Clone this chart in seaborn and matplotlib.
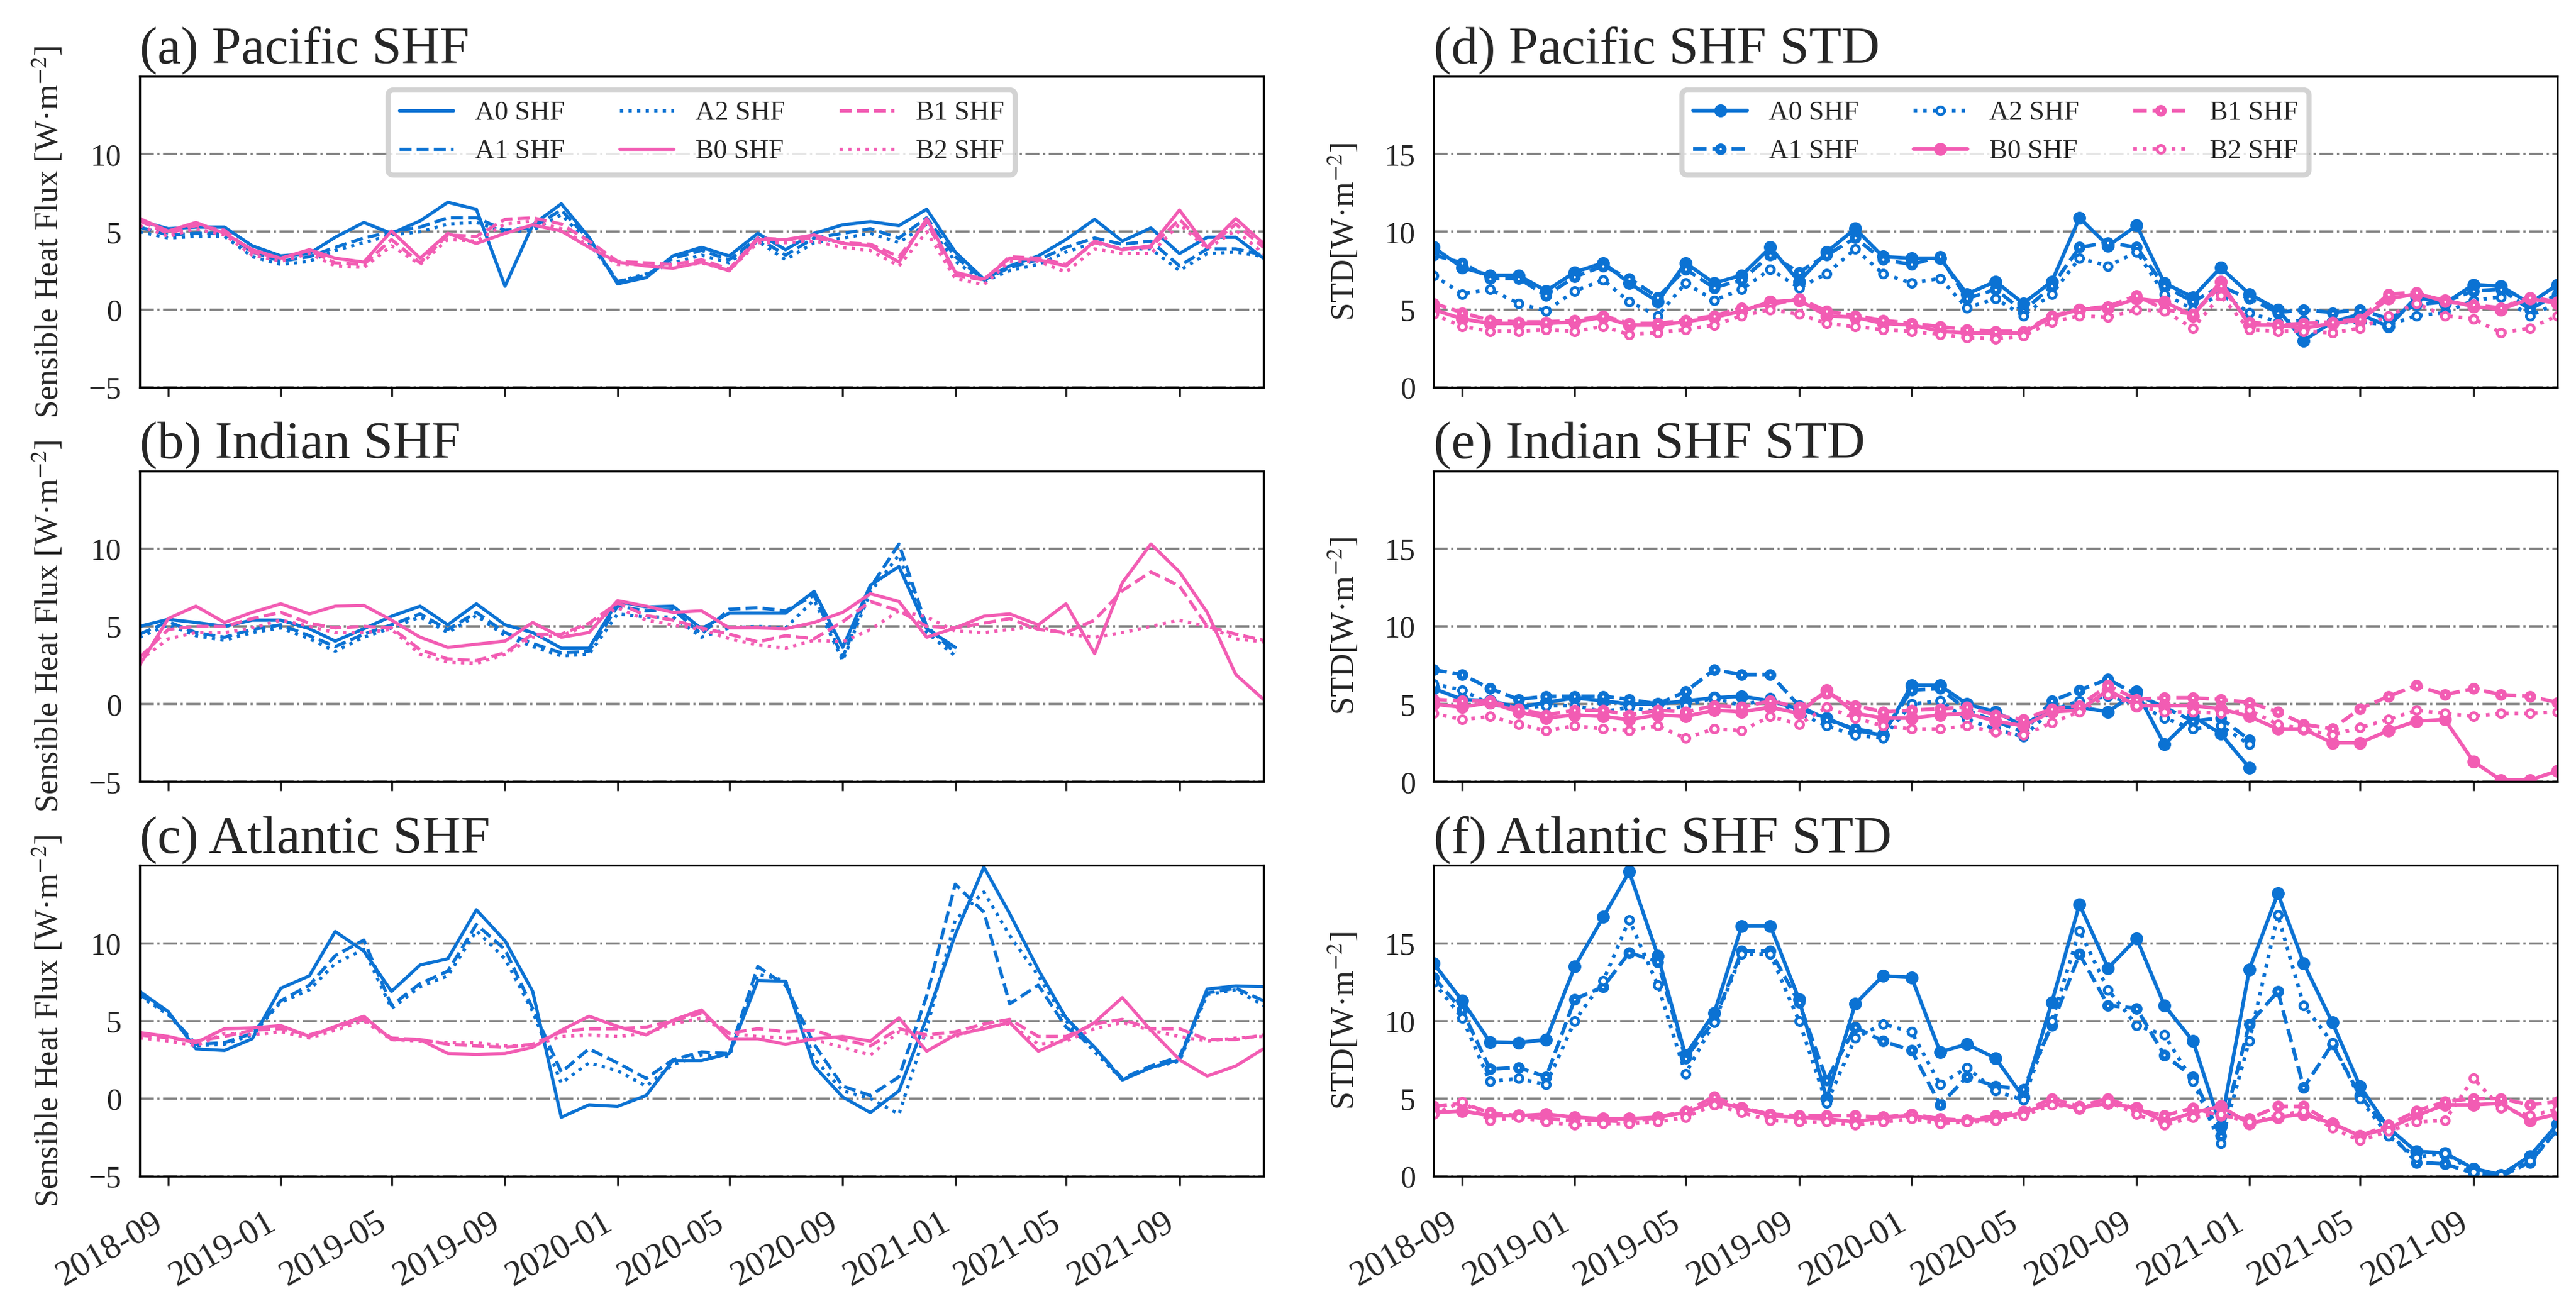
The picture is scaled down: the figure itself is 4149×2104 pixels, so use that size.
import numpy as np
import pandas as pd
import matplotlib
matplotlib.use('Agg')
import matplotlib.pyplot as plt
import matplotlib.dates as mdates
import seaborn as sns

# monthly time axis
dates = pd.date_range('2018-08-01', '2021-12-01', freq='MS')
runs = ['A0', 'A1', 'A2', 'B0', 'B1', 'B2']

# (a) Pacific SHF
pac_a0 = [5.7, 5.2, 5.3, 5.3, 4.1, 3.45, 3.6, 4.65, 5.6, 4.9, 5.7, 6.9, 6.45, 1.5, 5.45, 6.8, 4.65, 1.65, 2.05, 3.45, 4.0,
          3.45, 4.9, 3.85, 4.9, 5.45, 5.65, 5.4, 6.45, 3.7, 1.95, 2.8, 3.45, 4.5, 5.8, 4.4, 5.25, 3.6, 4.65, 4.65, 3.3]
pac_a1 = [5.3, 4.8, 4.9, 4.9, 3.7, 3.1, 3.4, 4.0, 4.6, 5.0, 5.3, 5.9, 5.9, 5.1, 5.3, 6.4, 4.5, 1.8, 2.2, 3.3, 3.8,
          3.2, 4.6, 3.5, 4.6, 4.9, 5.2, 4.6, 5.9, 3.4, 1.9, 2.7, 3.2, 4.0, 4.6, 4.2, 4.4, 2.8, 3.9, 3.9, 3.5]
pac_a2 = [5.0, 4.6, 4.7, 4.7, 3.4, 2.9, 3.1, 3.8, 4.3, 4.8, 5.0, 5.5, 5.6, 5.0, 5.1, 6.1, 4.3, 1.8, 2.3, 3.0, 3.5,
          3.0, 4.4, 3.2, 4.3, 4.6, 4.9, 4.3, 5.5, 3.1, 1.8, 2.5, 2.9, 3.7, 4.3, 3.9, 3.9, 2.5, 3.6, 3.7, 3.4]
pac_b0 = [5.85, 5.05, 5.6, 4.9, 3.85, 3.3, 3.85, 3.3, 3.05, 5.05, 3.3, 4.9, 4.25, 4.9, 5.45, 5.05, 4.0, 3.05, 2.8, 2.65,
          3.05, 2.5, 4.5, 4.5, 4.8, 4.25, 4.1, 3.05, 5.85, 2.4, 1.95, 3.3, 3.2, 2.8, 4.4, 3.85, 4.1, 6.4, 4.0, 5.85, 4.25]
pac_b1 = [5.7, 4.9, 5.4, 5.1, 3.7, 3.3, 3.8, 3.0, 2.9, 4.5, 3.0, 4.8, 4.7, 5.8, 5.9, 5.5, 4.4, 3.1, 3.0, 2.9, 3.2,
          2.6, 4.6, 4.5, 4.6, 4.3, 4.2, 3.4, 5.6, 2.2, 1.9, 3.4, 3.3, 2.9, 4.3, 3.9, 4.0, 5.8, 4.0, 5.5, 4.0]
pac_b2 = [5.4, 4.7, 5.2, 4.8, 3.5, 3.1, 3.6, 2.8, 2.7, 4.1, 2.9, 4.5, 4.4, 5.5, 5.7, 5.2, 4.1, 2.9, 2.9, 2.7, 3.0,
          2.5, 4.3, 4.3, 4.4, 4.0, 3.8, 2.8, 5.0, 2.0, 1.6, 3.1, 3.1, 2.4, 3.9, 3.6, 3.6, 5.5, 3.9, 5.1, 3.6]

# (b) Indian SHF (A runs stop in 2021-01)
ind_a0 = [5.0, 5.45, 5.25, 5.0, 5.4, 5.4, 4.85, 4.05, 4.85, 5.65, 6.3, 5.1, 6.45, 5.1, 4.6, 3.6, 3.6, 6.6, 6.25, 6.3,
          4.85, 5.85, 5.85, 5.85, 7.25, 3.65, 7.65, 8.85, 4.85, 3.65]
ind_a1 = [4.5, 5.3, 4.6, 4.3, 4.8, 5.1, 4.4, 3.7, 4.5, 5.1, 5.8, 4.8, 5.9, 4.6, 3.9, 3.3, 3.4, 6.3, 6.0, 6.1,
          4.5, 6.1, 6.2, 6.0, 7.0, 3.0, 7.5, 10.3, 5.0, 3.3]
ind_a2 = [4.3, 5.1, 4.4, 4.1, 4.6, 4.9, 4.2, 3.4, 4.3, 4.9, 5.6, 4.6, 5.7, 4.4, 3.7, 3.1, 3.2, 5.8, 5.6, 5.6,
          4.3, 4.9, 5.0, 4.9, 6.7, 2.8, 7.2, 9.6, 4.6, 3.1]
ind_b0 = [2.5, 5.5, 6.3, 5.25, 5.9, 6.45, 5.8, 6.3, 6.35, 5.4, 4.3, 3.65, 3.85, 4.05, 5.25, 4.3, 4.6, 6.65, 6.3, 5.9,
          6.0, 4.9, 4.9, 4.85, 5.25, 5.9, 7.1, 6.6, 4.3, 4.9, 5.65, 5.8, 5.1, 6.45, 3.25, 7.8, 10.3, 8.5, 5.9, 1.9, 0.3]
ind_b1 = [3.0, 4.8, 5.0, 5.0, 5.5, 5.9, 5.2, 4.9, 5.0, 4.9, 3.5, 2.9, 2.8, 3.3, 4.5, 4.5, 5.2, 6.5, 5.7, 5.4,
          4.9, 4.5, 4.0, 4.4, 4.2, 5.3, 6.6, 6.0, 5.0, 4.9, 5.2, 5.5, 4.8, 4.6, 5.4, 7.3, 8.5, 7.6, 5.0, 4.5, 4.1]
ind_b2 = [2.8, 4.2, 4.6, 4.6, 4.9, 5.4, 5.0, 4.6, 4.6, 4.8, 3.2, 2.7, 2.6, 3.2, 4.3, 4.4, 5.1, 6.2, 5.4, 5.1,
          4.8, 4.2, 3.8, 3.6, 4.1, 4.0, 4.8, 6.0, 5.6, 4.7, 4.6, 4.8, 5.0, 4.5, 4.3, 4.6, 5.0, 5.4, 5.0, 4.2, 4.0]

# (c) Atlantic SHF
atl_a0 = [6.9, 5.6, 3.2, 3.1, 3.85, 7.1, 7.9, 10.75, 9.5, 6.9, 8.6, 9.0, 12.15, 10.15, 6.9, -1.2, -0.4, -0.5, 0.2,
          2.45, 2.45, 2.9, 7.6, 7.55, 2.1, 0.1, -0.9, 0.5, 5.2, 10.55, 14.9, 11.9, 8.3, 5.2, 3.3, 1.2, 2.0, 2.5,
          7.05, 7.25, 7.2]
atl_a1 = [6.7, 5.5, 3.5, 3.6, 4.2, 6.3, 7.3, 9.2, 10.2, 6.0, 7.4, 8.2, 11.2, 9.6, 5.8, 1.7, 3.2, 2.3, 1.3, 2.5,
          3.0, 2.9, 8.5, 7.3, 3.5, 0.8, 0.2, 1.4, 6.6, 13.8, 12.0, 6.1, 7.3, 4.6, 3.3, 1.3, 2.1, 2.7, 6.8, 7.1, 6.3]
atl_a2 = [6.6, 5.4, 3.4, 3.5, 4.1, 6.2, 7.0, 8.7, 9.6, 5.8, 7.2, 7.9, 10.8, 9.0, 5.6, 1.0, 2.3, 1.8, 0.8, 2.2,
          2.8, 2.7, 8.0, 7.6, 2.6, 0.5, 0.0, -1.0, 4.5, 11.5, 13.3, 10.5, 7.9, 5.0, 3.0, 1.2, 2.0, 2.4, 6.7, 7.0, 6.0]
atl_b0 = [4.25, 4.0, 3.6, 4.5, 4.55, 4.7, 4.0, 4.65, 5.3, 3.8, 3.8, 2.9, 2.85, 2.9, 3.3, 4.4, 5.3, 4.65, 4.1, 5.05,
          5.7, 3.85, 3.85, 3.5, 3.85, 4.0, 3.7, 5.2, 3.05, 4.1, 4.5, 4.9, 3.05, 3.85, 4.9, 6.5, 4.4, 2.5, 1.45, 2.1, 3.2]
atl_b1 = [4.1, 3.9, 3.7, 4.0, 4.4, 4.5, 4.1, 4.6, 5.1, 3.9, 3.8, 3.5, 3.4, 3.3, 3.5, 4.3, 4.5, 4.5, 4.6, 5.0,
          5.5, 4.2, 4.5, 4.3, 4.4, 3.8, 3.4, 4.5, 4.1, 4.3, 4.8, 5.1, 4.0, 4.0, 4.8, 5.1, 4.5, 4.5, 3.8, 3.8, 4.1]
atl_b2 = [3.9, 3.7, 3.4, 4.2, 4.1, 4.3, 3.9, 4.4, 5.0, 3.8, 3.7, 3.6, 3.6, 3.4, 3.4, 4.0, 4.1, 4.0, 4.2, 4.8,
          5.2, 4.2, 4.0, 3.9, 3.8, 3.3, 2.8, 4.3, 3.9, 4.0, 4.6, 4.8, 3.5, 3.7, 4.5, 4.9, 4.4, 4.0, 3.7, 3.9, 4.0]

# (d) Pacific SHF STD
pac_std_a0 = [9.0, 7.7, 7.2, 7.2, 6.2, 7.4, 8.0, 6.7, 5.5, 8.0, 6.7, 7.2, 9.0, 6.8, 8.7, 10.2, 8.4, 8.3, 8.3, 6.0,
              6.8, 5.4, 6.8, 10.9, 9.1, 10.4, 6.7, 5.8, 7.7, 6.0, 5.0, 3.0, 4.2, 4.7, 3.9, 5.8, 5.4, 6.6, 6.5, 5.4, 6.6]
pac_std_a1 = [8.5, 8.0, 7.0, 7.0, 5.9, 7.1, 7.8, 7.0, 5.8, 7.6, 6.4, 6.9, 8.5, 7.4, 8.5, 9.6, 8.2, 7.9, 8.4, 5.7,
              6.3, 4.9, 6.5, 9.0, 9.3, 9.0, 6.5, 5.5, 6.5, 5.7, 4.8, 5.0, 4.8, 5.0, 4.4, 5.3, 5.5, 6.2, 6.3, 5.0, 6.0]
pac_std_a2 = [7.2, 6.0, 6.3, 5.4, 4.9, 6.2, 6.9, 5.5, 4.6, 6.7, 5.6, 6.3, 7.6, 6.4, 7.3, 8.9, 7.3, 6.7, 7.0, 5.1,
              5.7, 4.6, 6.0, 8.3, 7.8, 8.7, 6.0, 5.0, 6.0, 4.8, 4.2, 4.3, 4.1, 4.2, 4.0, 4.6, 4.8, 5.6, 5.8, 4.6, 5.4]
pac_std_b0 = [5.0, 4.4, 4.1, 4.1, 4.1, 4.2, 4.5, 4.0, 4.0, 4.2, 4.5, 4.9, 5.5, 5.6, 4.6, 4.5, 4.1, 4.0, 3.6, 3.5,
              3.5, 3.5, 4.5, 5.0, 5.1, 5.7, 5.5, 4.6, 6.8, 4.0, 4.0, 3.8, 4.1, 4.3, 5.7, 6.0, 5.6, 5.2, 5.0, 5.7, 5.4]
pac_std_b1 = [5.4, 4.8, 4.3, 4.2, 4.2, 4.3, 4.6, 4.1, 4.1, 4.3, 4.6, 5.1, 5.3, 5.7, 4.9, 4.6, 4.3, 4.1, 3.9, 3.7,
              3.6, 3.6, 4.6, 5.0, 5.2, 5.9, 5.0, 4.7, 6.5, 4.2, 4.0, 4.1, 4.2, 4.4, 6.0, 6.1, 5.5, 5.3, 5.1, 5.8, 5.5]
pac_std_b2 = [4.7, 3.9, 3.6, 3.6, 3.7, 3.6, 3.9, 3.4, 3.5, 3.7, 4.0, 4.6, 5.0, 4.7, 4.1, 3.9, 3.7, 3.6, 3.4, 3.2,
              3.1, 3.3, 4.2, 4.6, 4.5, 5.0, 4.9, 3.8, 5.9, 3.7, 3.6, 3.6, 3.5, 3.8, 4.6, 5.4, 4.6, 4.4, 3.5, 3.8, 4.6]

# (e) Indian SHF STD
ind_std_a0 = [6.0, 5.3, 5.2, 4.8, 5.1, 5.4, 5.2, 5.0, 5.0, 5.2, 5.4, 5.5, 5.2, 4.7, 4.1, 3.3, 3.0, 6.2, 6.2, 5.0,
              4.5, 3.6, 4.8, 4.8, 4.5, 5.8, 2.4, 4.2, 3.1, 0.9]
ind_std_a1 = [7.2, 6.9, 6.0, 5.3, 5.5, 5.5, 5.5, 5.3, 5.0, 5.8, 7.2, 6.9, 6.9, 4.9, 4.0, 3.4, 3.1, 5.9, 6.0, 4.6,
              3.9, 3.2, 5.2, 5.9, 6.6, 5.6, 4.8, 3.9, 4.1, 2.7]
ind_std_a2 = [6.3, 5.9, 5.0, 4.7, 4.9, 4.9, 4.5, 4.8, 4.5, 4.9, 5.4, 4.9, 5.4, 4.4, 3.6, 3.0, 2.8, 5.0, 5.2, 4.0,
              3.4, 2.9, 4.6, 5.2, 5.5, 5.0, 4.1, 3.4, 3.6, 2.4]
ind_std_b0 = [5.0, 4.8, 5.1, 4.5, 4.1, 4.3, 4.2, 4.0, 4.3, 4.2, 4.6, 4.5, 4.8, 4.4, 5.9, 4.4, 4.1, 4.1, 4.3, 4.4,
              3.9, 3.6, 4.5, 4.6, 5.9, 4.9, 4.9, 4.9, 4.7, 4.2, 3.4, 3.4, 2.5, 2.5, 3.3, 3.9, 4.0, 1.3, 0.1, 0.1, 0.7]
ind_std_b1 = [5.3, 5.2, 5.2, 4.7, 4.3, 4.6, 4.6, 4.3, 4.6, 4.5, 4.9, 4.8, 5.2, 4.8, 5.7, 4.9, 4.5, 4.6, 4.7, 4.8,
              4.3, 4.0, 4.7, 4.9, 6.2, 5.3, 5.4, 5.4, 5.3, 5.1, 4.5, 3.7, 3.4, 4.7, 5.5, 6.2, 5.6, 6.0, 5.6, 5.5, 5.1]
ind_std_b2 = [4.4, 4.0, 4.2, 3.7, 3.3, 3.6, 3.4, 3.3, 3.6, 2.8, 3.4, 3.3, 4.2, 3.7, 4.8, 4.1, 3.6, 3.4, 3.4, 3.6,
              3.2, 3.0, 3.8, 4.5, 5.6, 4.9, 4.5, 4.5, 4.4, 4.6, 3.7, 3.4, 3.0, 3.5, 4.0, 4.6, 4.4, 4.2, 4.4, 4.4, 4.5]

# (f) Atlantic SHF STD
atl_std_a0 = [13.7, 11.3, 8.65, 8.6, 8.8, 13.5, 16.7, 19.6, 14.2, 7.8, 10.5, 16.1, 16.1, 11.4, 5.0, 11.1, 12.9, 12.8,
              8.0, 8.5, 7.6, 5.1, 11.2, 17.5, 13.4, 15.3, 11.0, 8.7, 3.2, 13.3, 18.2, 13.7, 9.9, 5.8, 3.1, 1.6, 1.5,
              0.5, 0.1, 1.3, 3.35]
atl_std_a1 = [12.8, 10.7, 6.9, 7.0, 6.4, 11.4, 12.2, 14.4, 13.8, 7.6, 10.0, 14.5, 14.5, 11.2, 6.2, 9.6, 8.7, 8.1,
              4.6, 6.4, 5.8, 5.6, 9.7, 14.3, 11.0, 10.8, 7.8, 6.4, 2.6, 9.8, 11.9, 5.7, 8.5, 5.2, 2.9, 0.9, 0.8,
              0.2, 0.0, 0.9, 3.0]
atl_std_a2 = [12.5, 10.2, 6.1, 6.3, 5.9, 10.0, 12.6, 16.5, 12.3, 6.6, 9.9, 14.3, 14.3, 10.0, 4.7, 8.9, 9.8, 9.3,
              5.9, 7.0, 5.5, 4.9, 10.0, 15.8, 12.0, 9.7, 9.1, 6.1, 2.1, 8.7, 16.8, 11.0, 8.6, 5.0, 2.6, 1.2, 1.5,
              0.3, 0.1, 1.0, 3.0]
atl_std_b0 = [4.1, 4.2, 3.9, 3.9, 4.0, 3.8, 3.7, 3.7, 3.8, 4.1, 4.8, 4.4, 3.9, 3.8, 3.7, 3.5, 3.8, 3.9, 3.6, 3.6,
              3.7, 4.1, 4.7, 4.4, 4.7, 4.4, 3.5, 4.1, 4.5, 3.4, 3.8, 4.0, 3.4, 2.6, 3.1, 3.9, 4.6, 4.6, 4.7, 3.6, 4.0]
atl_std_b1 = [4.5, 4.7, 4.1, 3.9, 3.7, 3.6, 3.6, 3.5, 3.8, 4.2, 5.1, 4.4, 4.0, 3.9, 3.9, 3.9, 3.8, 4.0, 3.7, 3.6,
              3.9, 4.2, 5.0, 4.5, 5.0, 4.3, 3.9, 4.4, 3.9, 3.7, 4.5, 4.5, 3.4, 2.6, 3.3, 4.2, 4.8, 5.0, 5.0, 4.6, 4.8]
atl_std_b2 = [4.0, 4.8, 3.6, 3.8, 3.5, 3.3, 3.4, 3.4, 3.5, 3.8, 4.6, 4.1, 3.6, 3.5, 3.5, 3.3, 3.5, 3.7, 3.4, 3.5,
              3.6, 3.9, 4.6, 4.4, 4.8, 4.0, 3.3, 3.8, 4.0, 3.5, 3.9, 4.2, 3.1, 2.3, 2.9, 3.5, 3.6, 6.3, 4.4, 3.9, 4.3]

# style
sns.set_style('ticks')
plt.rcParams['font.family'] = ['Liberation Serif', 'DejaVu Serif']
plt.rcParams['mathtext.fontset'] = 'stix'
plt.rcParams['xtick.labelsize'] = 13.5
plt.rcParams['ytick.labelsize'] = 12

blue = '#0b72d3'
pink = '#f25cb3'

line_kw = {
    'A0': dict(color=blue, linestyle='-'),
    'A1': dict(color=blue, linestyle='--'),
    'A2': dict(color=blue, linestyle=':'),
    'B0': dict(color=pink, linestyle='-'),
    'B1': dict(color=pink, linestyle='--'),
    'B2': dict(color=pink, linestyle=':'),
}
# marker look for the STD panels: filled / thick ring / open ring
mark_kw = {}
for r in runs:
    c = line_kw[r]['color']
    if r.endswith('0'):
        mark_kw[r] = dict(marker='o', markersize=4.3, markerfacecolor=c, markeredgecolor=c, markeredgewidth=0.7)
    elif r.endswith('1'):
        mark_kw[r] = dict(marker='o', markersize=2.7, markerfacecolor='white', markeredgecolor=c, markeredgewidth=1.8)
    else:
        mark_kw[r] = dict(marker='o', markersize=3.0, markerfacecolor='white', markeredgecolor=c, markeredgewidth=1.1)

left_panels = [
    ('(a) Pacific SHF', [pac_a0, pac_a1, pac_a2, pac_b0, pac_b1, pac_b2]),
    ('(b) Indian SHF', [ind_a0, ind_a1, ind_a2, ind_b0, ind_b1, ind_b2]),
    ('(c) Atlantic SHF', [atl_a0, atl_a1, atl_a2, atl_b0, atl_b1, atl_b2]),
]
right_panels = [
    ('(d) Pacific SHF STD', [pac_std_a0, pac_std_a1, pac_std_a2, pac_std_b0, pac_std_b1, pac_std_b2]),
    ('(e) Indian SHF STD', [ind_std_a0, ind_std_a1, ind_std_a2, ind_std_b0, ind_std_b1, ind_std_b2]),
    ('(f) Atlantic SHF STD', [atl_std_a0, atl_std_a1, atl_std_a2, atl_std_b0, atl_std_b1, atl_std_b2]),
]

fig, axes = plt.subplots(3, 2, figsize=(4149 / 300, 2104 / 300), dpi=300)
fig.subplots_adjust(left=0.0542, right=0.9928, bottom=0.0993, top=0.9415, wspace=0.1514, hspace=0.2695)

for col, panels in enumerate([left_panels, right_panels]):
    for row, (title, series) in enumerate(panels):
        ax = axes[row, col]
        for run, vals in zip(runs, series):
            kw = dict(line_kw[run])
            if col == 1:
                kw.update(mark_kw[run])
            lw = 1.4 if col == 1 else 1.25
            sns.lineplot(x=dates[:len(vals)], y=vals, ax=ax, label=f'{run} SHF', linewidth=lw, **kw)

        ax.set_xlim(dates[0], dates[-1])
        if col == 0:
            ax.set_ylim(-5, 15)
            ax.set_yticks([-5, 0, 5, 10])
            ax.set_ylabel('Sensible Heat Flux [W·m$^{-2}$]', fontsize=12.6, labelpad=9)
        else:
            ax.set_ylim(0, 20)
            ax.set_yticks([0, 5, 10, 15])
            ax.set_ylabel('STD[W·m$^{-2}$]', fontsize=12.6, labelpad=9)
        ax.set_xlabel('')
        ax.set_title(title, loc='left', fontsize=20.5, pad=5)

        ax.grid(axis='y', linestyle='-.', color='gray', linewidth=0.85)
        ax.grid(axis='x', visible=False)
        ax.set_axisbelow(True)

        ax.xaxis.set_major_locator(mdates.MonthLocator(bymonth=[1, 5, 9]))
        ax.xaxis.set_major_formatter(mdates.DateFormatter('%Y-%m'))
        ax.tick_params(axis='y', length=0, pad=7, labelsize=12)
        ax.tick_params(axis='x', length=3.5, width=0.8, direction='out', labelsize=13.5, pad=8,
                       labelrotation=30)
        for sp in ax.spines.values():
            sp.set_visible(True)
            sp.set_color('black')
            sp.set_linewidth(0.8)

        if row == 2:
            for lab in ax.get_xticklabels():
                lab.set_horizontalalignment('right')
        else:
            ax.tick_params(axis='x', labelbottom=False)

        if row == 0:
            leg = ax.legend(loc='upper center', ncol=3, fontsize=10.5, frameon=True,
                            fancybox=True, edgecolor='#c8c8c8', framealpha=0.8)
            leg.get_frame().set_linewidth(2.0)
        elif ax.get_legend() is not None:
            ax.get_legend().remove()

fig.savefig('out.png', dpi=300)
